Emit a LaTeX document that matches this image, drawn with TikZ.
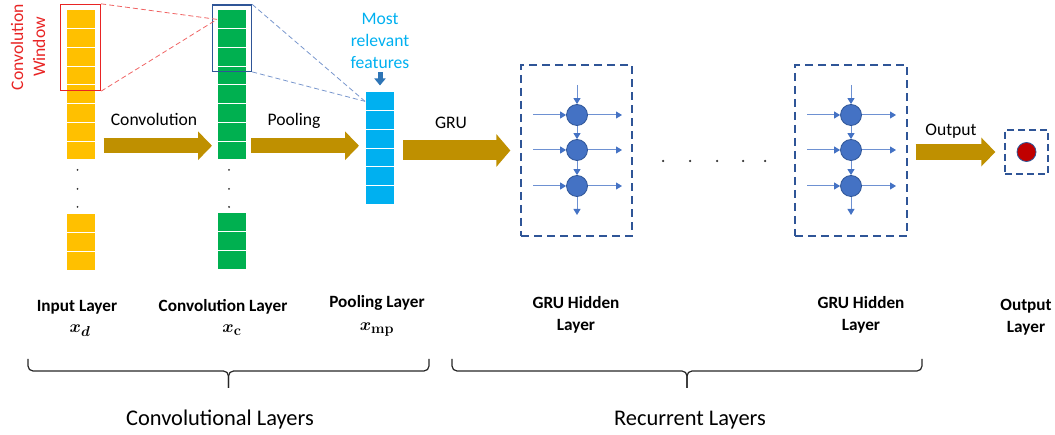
\documentclass[tikz,border=0pt]{standalone}
\usepackage{fontspec}
\setmainfont{Carlito}
\usepackage{amsmath}
\usetikzlibrary{arrows.meta, positioning, calc, fit}
\definecolor{inyellow}{RGB}{255,192,0}
\definecolor{convgreen}{RGB}{0,176,80}
\definecolor{poolblue}{RGB}{0,176,240}
\definecolor{arrowgold}{RGB}{191,144,0}
\definecolor{winred}{RGB}{232,36,36}
\definecolor{dashred}{RGB}{240,100,100}
\definecolor{winblue}{RGB}{47,85,151}
\definecolor{dashblue}{RGB}{120,150,205}
\definecolor{unitblue}{RGB}{68,114,196}
\definecolor{flowblue}{RGB}{110,145,210}
\definecolor{outred}{RGB}{192,0,0}
\definecolor{featblue}{RGB}{46,117,182}
\tikzset{
  cell/.style={rectangle, draw=white, line width=1pt, minimum width=29pt,
    minimum height=18.75pt, inner sep=0pt},
  incell/.style={cell, fill=inyellow},
  convcell/.style={cell, fill=convgreen},
  poolcell/.style={cell, fill=poolblue, minimum height=18.67pt},
  coldot/.style={circle, fill=black!80, minimum size=2pt, inner sep=0pt},
  window/.style={rectangle, line width=1.3pt, inner sep=5pt},
  bigarrow/.style={-{Triangle[length=14pt,width=28pt]}, line width=15pt, color=arrowgold},
  gatebox/.style={rectangle, draw=winblue, dash pattern=on 8pt off 5pt,
    line width=1.3pt, minimum width=111pt, minimum height=171pt},
  gru/.style={circle, draw=winblue, fill=unitblue, line width=0.8pt,
    minimum size=21pt, inner sep=0pt},
  flow/.style={-{Triangle[length=6pt,width=7pt,color=unitblue]}, line width=1pt, color=flowblue},
  lbl/.style={font=\fontsize{17.6}{22}\selectfont},
  mathlbl/.style={font=\fontsize{19}{22}\selectfont\boldmath},
  layerlbl/.style={font=\fontsize{17.2}{22}\selectfont\bfseries, align=center},
  grouplbl/.style={font=\fontsize{22.4}{27}\selectfont},
  grpbrace/.style={rounded corners=5pt, line width=1.2pt, color=black!85}
}

\begin{document}
\begin{tikzpicture}[x=1pt, y=-1pt]
  \useasboundingbox (0,0) rectangle (1055,435);

  % Input column
  \foreach \i in {1,...,8}
    \node[incell] (in\i) at (80.5, {10+18.75*(\i-0.5)}) {};
  \foreach \i in {1,2,3}
    \node[incell] (inb\i) at (80.5, {214+18.75*(\i-0.5)}) {};
  \foreach \y [count=\k] in {170,189,207}
    \node[coldot] (indot\k) at (77.5,\y) {};

  % Convolution column
  \foreach \i in {1,...,8}
    \node[convcell] (conv\i) at (232, {10+18.75*(\i-0.5)}) {};
  \foreach \i in {1,2,3}
    \node[convcell] (convb\i) at (232, {213+18.75*(\i-0.5)}) {};
  \foreach \y [count=\k] in {170,189,207}
    \node[coldot] (convdot\k) at (229,\y) {};

  % Pooling column
  \foreach \i in {1,...,6}
    \node[poolcell] (pool\i) at (380, {92+18.67*(\i-0.5)}) {};

  % Windows
  \node[window, draw=winred, fit=(in1)(in4)] (cwin) {};
  \node[window, draw=winblue, inner sep=4.5pt, fit=(conv1)(conv3)] (pwin) {};
  \node[lbl, text=winred, align=center, rotate=90] (winlbl) at (28,47) {Convolution\\Window};

  \draw[dashred, dash pattern=on 5pt off 3pt, line width=0.8pt] (cwin.north east) -- (conv1.west);
  \draw[dashred, dash pattern=on 5pt off 3pt, line width=0.8pt] (cwin.south east) -- (conv1.west);
  \draw[dashblue, dash pattern=on 5pt off 3pt, line width=0.8pt] (pwin.north east) -- (pool1.west);
  \draw[dashblue, dash pattern=on 5pt off 3pt, line width=0.8pt] (pwin.south east) -- (pool1.west);

  % Most relevant features
  \node[lbl, text=poolblue, align=center] (feat) at (380,41) {Most\\relevant\\features};
  \draw[-{Triangle[length=7pt,width=11pt]}, line width=5pt, featblue, shorten >=6pt]
    (feat.south) -- (pool1.north);

  % GRU hidden layers
  \node[gatebox] (gru1) at (576.5,150.5) {};
  \node[gatebox, minimum width=112pt] (gru2) at (851,150.5) {};
  \foreach \g/\x in {1/577, 2/851} {
    \foreach \k/\y in {1/115, 2/150, 3/186}
      \node[gru] (u\g\k) at (\x,\y) {};
    \draw[flow] ([yshift=30pt]u\g1.center) -- (u\g1);
    \draw[flow] (u\g1) -- (u\g2);
    \draw[flow] (u\g2) -- (u\g3);
    \draw[flow] (u\g3) -- ([yshift=-29pt]u\g3.center);
    \foreach \k in {1,2,3} {
      \draw[flow] ([xshift=-44pt]u\g\k.center) -- (u\g\k);
      \draw[flow] (u\g\k) -- ([xshift=45pt]u\g\k.center);
    }
  }
  \foreach \x [count=\k] in {663,690,717,743,765}
    \node[coldot, minimum size=2.5pt] (gdot\k) at (\x,161) {};

  % Output layer
  \node[gatebox, dash pattern=on 7pt off 4pt, minimum width=43pt, minimum height=44pt] (outbox) at (1026.5,152) {};
  \node[circle, draw=winblue, fill=outred, line width=0.8pt, minimum size=19pt, inner sep=0pt] (outdot) at (outbox.center) {};

  % Flow arrows
  \draw[bigarrow, shorten <=8pt, shorten >=5pt]
    ([yshift=-4pt]in7.south east) -- ([yshift=-4pt]in7.south east -| conv7.west);
  \draw[bigarrow, shorten <=4pt, shorten >=6pt]
    ([yshift=-4pt]conv7.south east) -- ([yshift=-4pt]conv7.south east -| pool1.west);
  \draw[bigarrow, -{Triangle[length=14pt,width=32pt]}, line width=20pt, shorten <=8pt, shorten >=10pt]
    (pool3.south east |- gru1.west) -- (gru1.west);
  \draw[bigarrow, line width=16pt, shorten <=8pt, shorten >=9pt]
    (gru2.east |- outbox.west) -- (outbox.west);

  \node[lbl, anchor=base] (convlbl) at (154,125.5) {Convolution};
  \node[lbl, anchor=base] (poollbl) at (294,125.5) {Pooling};
  \node[lbl, anchor=base] (grulbl) at (451,128.3) {GRU};
  \node[lbl, anchor=base] (outlbl) at (951,136) {Output};

  % Layer names
  \node[layerlbl, anchor=base] (inlayer) at (77,312) {Input Layer};
  \node[mathlbl, anchor=base] (inmath) at (80,333) {$x_{d}$};
  \node[layerlbl, anchor=base] (convlayer) at (223,312) {Convolution Layer};
  \node[mathlbl, anchor=base] (convmath) at (232,333) {$x_{\mathbf{c}}$};
  \node[layerlbl, anchor=base] (poollayer) at (377,308) {Pooling Layer};
  \node[mathlbl, anchor=base] (poolmath) at (377,331) {$x_{\mathbf{mp}}$};
  \node[layerlbl] (grulayer1) at (576,315) {GRU Hidden\\Layer};
  \node[layerlbl] (grulayer2) at (861,315) {GRU Hidden\\Layer};
  \node[layerlbl] (outlayer) at (1026,317) {Output\\Layer};

  % Groups
  \coordinate (convL) at (28,359);
  \coordinate (convR) at (429,359);
  \coordinate (convM) at (228.5,371);
  \coordinate (convT) at (228.5,388);
  \coordinate (recL) at (452,359);
  \coordinate (recR) at (922,359);
  \coordinate (recM) at (687,371);
  \coordinate (recT) at (687,388);
  \draw[grpbrace] (convL) |- (convM) -- (convT);
  \draw[grpbrace] (convR) |- (convM) -- (convT);
  \draw[grpbrace] (recL) |- (recM) -- (recT);
  \draw[grpbrace] (recR) |- (recM) -- (recT);
  \node[grouplbl, anchor=base] (convgrp) at (220,426) {Convolutional Layers};
  \node[grouplbl, anchor=base] (recgrp) at (690,426) {Recurrent Layers};

\end{tikzpicture}
\end{document}
